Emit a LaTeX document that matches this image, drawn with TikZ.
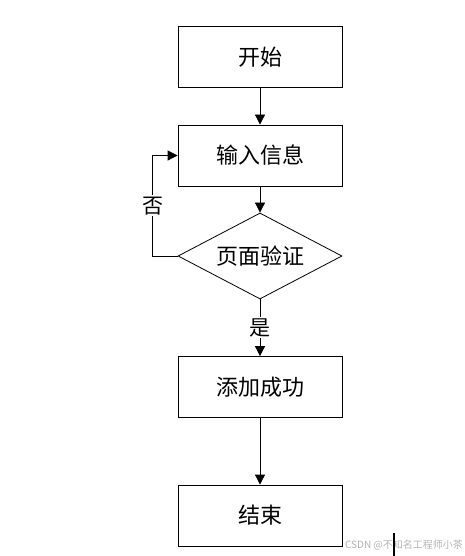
\documentclass[tikz,border=0pt]{standalone}
\usepackage{fontspec}
\newfontfamily\cjk{Noto Sans CJK SC}
\usetikzlibrary{shapes.geometric, arrows.meta}

\begin{document}
\begin{tikzpicture}[x=1pt, y=-1pt,
        box/.style={draw, rectangle, line width=0.8pt, minimum width=164pt, minimum height=61pt, inner sep=0pt, font=\cjk\fontsize{22}{26}\selectfont},
        check/.style={draw, diamond, aspect=1.9, line width=0.8pt, minimum width=164pt, minimum height=86pt, inner sep=0pt, font=\cjk\fontsize{22}{26}\selectfont},
        arrow/.style={line width=0.8pt, -{Triangle[length=10pt, width=10pt]}},
        tag/.style={fill=white, inner sep=1.5pt, font=\cjk\fontsize{21}{24}\selectfont}
    ]
    \useasboundingbox (0,0) rectangle (465,556);

    % Flow
    \node[box] (start) at (260, 57) {开始};
    \node[box] (input) at (260, 155.5) {输入信息};
    \node[check] (verify) at (260, 256) {页面验证};
    \node[box] (added) at (260, 387) {添加成功};
    \node[box] (finish) at (260, 515.5) {结束};

    \draw[arrow] (start) -- (input);
    \draw[arrow] (input) -- (verify);
    \draw[arrow] (verify) -- node[tag] {是} (added);
    \draw[arrow] (added) -- (finish);

    % Retry loop
    \draw[arrow] (verify.west) -- ++(-25, 0) |- node[tag, pos=0.25] {否} (input.west);

    % Watermark
    \node[text=black!30, inner sep=0pt, font=\cjk\fontsize{10}{11}\selectfont] (mark) at (404, 545) {CSDN @不知名工程师小茶};
    \draw[line width=2pt] (394, 533) -- (394, 556);

\end{tikzpicture}
\end{document}
